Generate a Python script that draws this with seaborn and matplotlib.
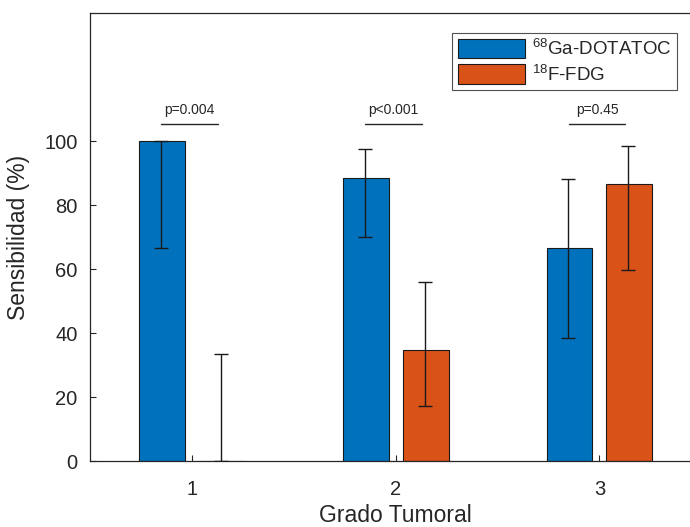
import numpy as np
import pandas as pd
import matplotlib
matplotlib.use("Agg")
import matplotlib.pyplot as plt
import seaborn as sns
from matplotlib.patches import Patch

grados = ["1", "2", "3"]
metodos = ["$^{68}$Ga-DOTATOC", "$^{18}$F-FDG"]
sens_ga = [100.0, 88.5, 66.7]
sens_fdg = [0.0, 34.8, 86.7]
ic_low_ga = [66.6, 69.9, 38.3]
ic_high_ga = [100.0, 97.5, 88.2]
ic_low_fdg = [0.0, 17.3, 59.6]
ic_high_fdg = [33.5, 55.8, 98.4]
p_textos = ["p=0.004", "p<0.001", "p=0.45"]

colores = ["#0072BD", "#D95319"]

sns.set_style("white")
plt.rcParams["font.family"] = ["Liberation Sans", "DejaVu Sans"]
plt.rcParams["mathtext.default"] = "regular"

df = pd.DataFrame({
    "grado": grados * 2,
    "metodo": [metodos[0]] * 3 + [metodos[1]] * 3,
    "sens": sens_ga + sens_fdg,
    "low": ic_low_ga + ic_low_fdg,
    "high": ic_high_ga + ic_high_fdg,
})

fig = plt.figure(figsize=(6.9, 5.27), dpi=100)
ax = fig.add_axes([0.1304, 0.1252, 0.886, 0.850])

sns.barplot(data=df, x="grado", y="sens", hue="metodo", palette=colores,
            saturation=1, width=0.588, gap=0.235, edgecolor="#1a1a1a",
            linewidth=0.8, errorbar=None, legend=False, ax=ax)

# error bars at the centre of each drawn bar
for i, grado in enumerate(grados):
    for j, met in enumerate(metodos):
        fila = df[(df.grado == grado) & (df.metodo == met)].iloc[0]
        off = (-0.152 if j == 0 else 0.142)
        ax.errorbar(i + off, fila.sens,
                    yerr=[[fila.sens - fila.low], [fila.high - fila.sens]],
                    fmt="none", ecolor="#1a1a1a", elinewidth=1.0,
                    capsize=4.7, capthick=1.0, zorder=5)
    ax.plot([i - 0.15, i + 0.127], [105.3, 105.3], color="#262626", lw=1.0)
    ax.text(i - 0.01, 107.6, p_textos[i], ha="center", va="bottom",
            fontsize=10, color="#262626")

ax.set_xlim(-0.5, 2.5)
ax.set_ylim(0, 140)
ax.set_yticks([0, 20, 40, 60, 80, 100])
ax.tick_params(axis="both", direction="in", length=4, width=0.8,
               colors="#262626", labelsize=14.5, bottom=True, left=True)
ax.tick_params(axis="x", pad=14)
ax.tick_params(axis="y", pad=9)
for s in ax.spines.values():
    s.set_color("#262626")
    s.set_linewidth(0.9)
ax.set_xlabel("Grado Tumoral", fontsize=16.5, color="#262626", labelpad=3)
ax.set_ylabel("Sensibilidad (%)", fontsize=16.5, color="#262626", labelpad=10)

handles = [Patch(facecolor=c, edgecolor="#1a1a1a", linewidth=0.8) for c in colores]
leg = fig.legend(handles, metodos, loc="upper right",
                 bbox_to_anchor=(677 / 690, 1 - 33 / 527),
                 fontsize=13.5, frameon=True, fancybox=False, handlelength=3.6,
                 handleheight=1.25, handletextpad=0.35, borderpad=0.3,
                 labelspacing=0.3, borderaxespad=0)
leg.get_frame().set_edgecolor("#262626")
leg.get_frame().set_linewidth(0.8)

fig.savefig("out.png", dpi=100)
